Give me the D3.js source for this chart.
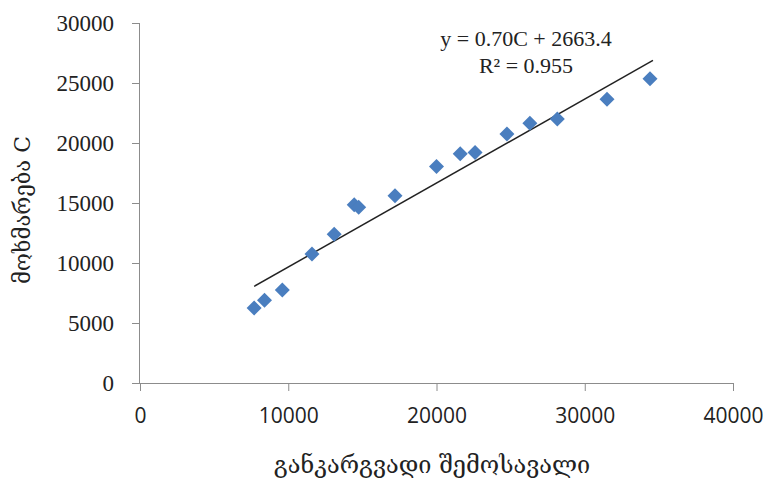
<!DOCTYPE html>
<html><head><meta charset="utf-8">
<script src="https://cdn.jsdelivr.net/npm/d3@7"></script>
<style>body{margin:0;background:#fff}svg{display:block}</style>
</head><body>
<svg id="c" width="763" height="482"></svg>
<script>
const xValues = [7700, 8400, 9600, 11600, 13100, 14450, 14750, 17200, 20000, 21600, 22600, 24750, 26300, 28150, 31500, 34400];
const yValues = [6250, 6900, 7750, 10750, 12400, 14850, 14650, 15600, 18050, 19100, 19200, 20750, 21650, 22000, 23650, 25350];
const xTicks = [0, 10000, 20000, 30000, 40000];
const yTicks = [0, 5000, 10000, 15000, 20000, 25000, 30000];
const trendSlope = 0.70, trendIntercept = 2663.4;
const equationLines = ["y = 0.70C + 2663.4", "R² = 0.955"];
const xTitle = "განკარგვადი შემოსავალი";
const yTitle = "მოხმარება C";

const svg = d3.select("#c");
const x = d3.scaleLinear().domain([0, 40000]).range([140, 733]);
const y = d3.scaleLinear().domain([0, 30000]).range([383, 23]);
const axisColor = "#8c8c8c";

const gx = svg.append("g").attr("transform", "translate(0,383)")
  .call(d3.axisBottom(x).tickValues(xTicks).tickSize(8).tickPadding(17).tickFormat(d3.format("d")));
gx.select(".domain").attr("stroke", axisColor).attr("d", `M${x.range()[0]-8},0.5H${x.range()[1]}`);
gx.selectAll(".tick line").attr("stroke", axisColor);
gx.selectAll(".tick text").attr("font-family", "'Open Sans', sans-serif").attr("font-size", 21).attr("fill", "#222");

const gy = svg.append("g").attr("transform", "translate(140,0)")
  .call(d3.axisLeft(y).tickValues(yTicks).tickSize(8).tickPadding(18).tickFormat(d3.format("d")));
gy.select(".domain").attr("stroke", axisColor).attr("d", `M-0.5,${y.range()[1]}V${y.range()[0]}`);
gy.selectAll(".tick line").attr("stroke", axisColor);
gy.selectAll(".tick text").attr("font-family", "'Liberation Serif', serif").attr("font-size", 23).attr("fill", "#222");

const [xmin, xmax] = d3.extent(xValues);
svg.append("line")
  .attr("x1", x(xmin)).attr("y1", y(trendSlope * xmin + trendIntercept))
  .attr("x2", x(xmax + 200)).attr("y2", y(trendSlope * (xmax + 200) + trendIntercept))
  .attr("stroke", "#222").attr("stroke-width", 1.5);

const r = 7.5;
svg.append("g").selectAll("path").data(xValues.map((v, i) => [v, yValues[i]])).join("path")
  .attr("d", d => `M${x(d[0])},${y(d[1]) - r}L${x(d[0]) + r},${y(d[1])}L${x(d[0])},${y(d[1]) + r}L${x(d[0]) - r},${y(d[1])}Z`)
  .attr("fill", "#4A7EBF");

svg.append("g").selectAll("text").data(equationLines).join("text")
  .attr("x", 526).attr("y", (d, i) => 46 + i * 27)
  .attr("text-anchor", "middle")
  .attr("font-family", "'Liberation Serif', serif").attr("font-size", 22).attr("fill", "#222")
  .text(d => d);

svg.append("text").attr("x", 432).attr("y", 473).attr("text-anchor", "middle")
  .attr("font-family", "'DejaVu Serif', serif").attr("font-size", 23.5).attr("fill", "#222")
  .text(xTitle);

svg.append("text").attr("transform", "translate(30,210) rotate(-90)").attr("text-anchor", "middle")
  .attr("font-family", "'DejaVu Serif', serif").attr("font-size", 22).attr("fill", "#222")
  .text(yTitle);
</script>
</body></html>
